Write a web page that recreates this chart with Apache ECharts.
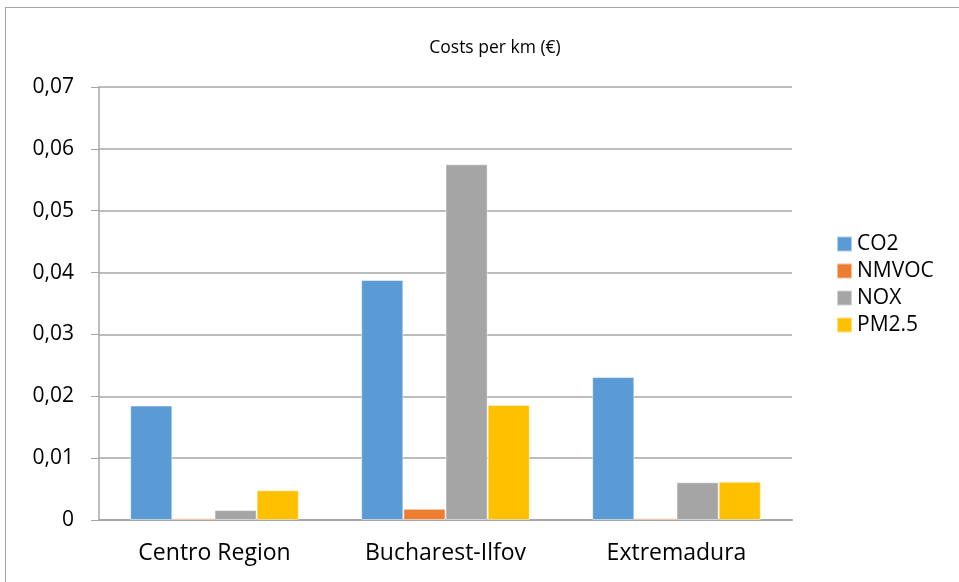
<!DOCTYPE html>
<html>
<head>
<meta charset="utf-8">
<script src="https://cdn.jsdelivr.net/npm/echarts@6/dist/echarts.min.js"></script>
<style>
  body { margin: 0; background: #fff; }
  #wrap { position: relative; width: 959px; height: 582px; overflow: hidden; }
  #frame { position: absolute; left: 5px; top: 7px; width: 1000px; height: 1000px; border: 1px solid #a6a6a6; }
  #chart { position: absolute; left: 0; top: 0; width: 959px; height: 582px; }
</style>
</head>
<body>
<div id="wrap">
  <div id="frame"></div>
  <div id="chart"></div>
</div>
<script>
var regions = ['Centro Region', 'Bucharest-Ilfov', 'Extremadura'];
var co2 = [0.0185, 0.0388, 0.0231];
var nmvoc = [0.0003, 0.0018, 0.0003];
var nox = [0.0016, 0.0575, 0.0061];
var pm25 = [0.0048, 0.0186, 0.0062];
var seriesNames = ['CO2', 'NMVOC', 'NOX', 'PM2.5'];
var seriesColors = ['#5B9BD5', '#ED7D31', '#A5A5A5', '#FFC000'];

var font = '"Open Sans", Lato, sans-serif';

var chart = echarts.init(document.getElementById('chart'));

var option = {
  animation: false,
  title: {
    text: 'Costs per km (€)',
    left: 490,
    textAlign: 'center',
    top: 34,
    textStyle: { fontFamily: font, fontSize: 17.5, fontWeight: 'normal', color: '#000' }
  },
  legend: {
    orient: 'vertical',
    left: 831,
    top: 228,
    itemWidth: 15,
    itemHeight: 15,
    itemGap: 5,
    icon: 'rect',
    data: seriesNames,
    textStyle: { fontFamily: font, fontSize: 21, color: '#000', lineHeight: 22 }
  },
  grid: { left: 99, right: 167, top: 87, bottom: 62 },
  xAxis: {
    type: 'category',
    data: regions,
    axisLine: { lineStyle: { color: '#a6a6a6', width: 2 } },
    axisTick: { show: false },
    axisLabel: { fontFamily: font, fontSize: 23, color: '#000', margin: 22 }
  },
  yAxis: {
    type: 'value',
    min: 0,
    max: 0.07,
    interval: 0.01,
    axisLine: { show: true, lineStyle: { color: '#a6a6a6', width: 1.5 } },
    axisTick: { show: true, inside: false, length: 8, lineStyle: { color: '#a6a6a6' } },
    splitLine: { lineStyle: { color: '#a6a6a6', width: 1.5 } },
    axisLabel: {
      fontFamily: font, fontSize: 21, color: '#000', margin: 25,
      formatter: function (v) { return v === 0 ? '0' : v.toFixed(2).replace('.', ','); }
    }
  },
  series: [co2, nmvoc, nox, pm25].map(function (d, i) {
    return {
      name: seriesNames[i],
      type: 'bar',
      data: d,
      barGap: '0%',
      barCategoryGap: '27%',
      itemStyle: { color: seriesColors[i], borderColor: 'rgba(255,255,255,0.5)', borderWidth: 1 }
    };
  })
};

chart.setOption(option);
</script>
</body>
</html>
